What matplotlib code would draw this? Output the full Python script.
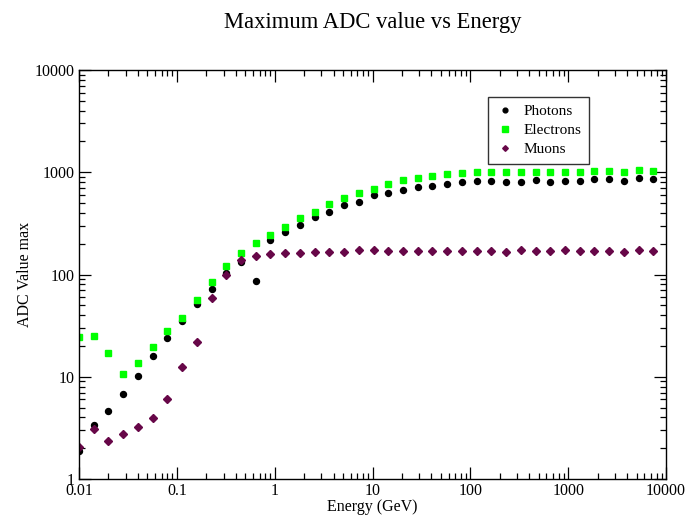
import matplotlib
matplotlib.use("Agg")
import matplotlib.pyplot as plt
from matplotlib.ticker import LogLocator, FuncFormatter, NullFormatter

# ---- data ----
energy = [0.01, 0.01414, 0.02, 0.02828, 0.04, 0.05657, 0.08, 0.1131,
          0.16, 0.2263, 0.32, 0.4525, 0.64, 0.9051, 1.28, 1.81,
          2.56, 3.62, 5.12, 7.241, 10.24, 14.48, 20.48, 28.96,
          40.96, 57.93, 81.92, 115.9, 163.8, 231.7, 327.7, 463.4,
          655.4, 926.8, 1311, 1854, 2621, 3707, 5243, 7415]

photons = [1.9, 3.35, 4.6, 6.8, 10.2, 16.1, 23.8, 35.1,
           51.5, 72.6, 103, 133, 86.4, 217, 259, 307,
           365, 408, 475, 515, 599, 627, 671, 713,
           734, 763, 798, 815, 815, 810, 810, 834,
           810, 815, 828, 853, 853, 828, 873, 853]

electrons = [24.7, 25.0, 17.0, 10.6, 13.7, 19.7, 27.8, 37.5,
             56.3, 84.5, 120, 162, 202, 245, 292, 355,
             411, 489, 560, 622, 691, 773, 840, 879,
             919, 962, 977, 1000, 1012, 1012, 1012, 1012,
             1012, 1012, 1012, 1035, 1035, 1012, 1043, 1035]

muons = [2.07, 3.1, 2.37, 2.75, 3.2, 3.95, 6.1, 12.5,
         21.7, 58.5, 98, 138, 152, 158, 161, 161,
         165, 165, 165, 174, 174, 170, 170, 170,
         170, 170, 170, 170, 170, 165, 174, 170,
         170, 174, 170, 170, 170, 167, 174, 170]

labels = ["Photons", "Electrons", "Muons"]
# -------------------------------------

plt.rcParams["font.family"] = ["Liberation Serif", "DejaVu Serif"]

fig = plt.figure(figsize=(6.85, 5.2), dpi=100)
ax = fig.add_axes([0.1153, 0.0788, 0.857, 0.7866])

ax.plot(energy, photons, ls="none", marker="o", ms=4.3, color="black",
        mec="black", label=labels[0])
ax.plot(energy, electrons, ls="none", marker="s", ms=5.0, color="#00ff00",
        mec="#00ff00", label=labels[1])
ax.plot(energy, muons, ls="none", marker="D", ms=3.6, color="#670748",
        mec="#670748", label=labels[2])

ax.set_xscale("log")
ax.set_yscale("log")
ax.set_xlim(0.01, 10000)
ax.set_ylim(1, 10000)

fmt = FuncFormatter(lambda v, p: "%g" % v)
for axis in (ax.xaxis, ax.yaxis):
    axis.set_major_locator(LogLocator(base=10, numticks=20))
    axis.set_minor_locator(LogLocator(base=10, subs=range(2, 10), numticks=20))
    axis.set_major_formatter(fmt)
    axis.set_minor_formatter(NullFormatter())

ax.tick_params(which="both", direction="in", top=True, right=True,
               labelsize=11.5, width=0.9)
ax.tick_params(which="major", length=8.5, pad=3)
ax.tick_params(which="minor", length=4.5)
for sp in ax.spines.values():
    sp.set_linewidth(1.0)

ax.set_xlabel("Energy (GeV)", fontsize=11.5, labelpad=0)
ax.set_ylabel("ADC Value max", fontsize=11.5, labelpad=1)
# title centred over the plot area, as in the reference
ax.set_title("Maximum ADC value vs Energy", fontsize=16.3, pad=30)

leg = ax.legend(loc="upper left", bbox_to_anchor=(0.697, 0.934),
                borderaxespad=0, fontsize=11, frameon=True, fancybox=False,
                markerscale=0.8, handlelength=1.2, handletextpad=0.6,
                borderpad=0.5, labelspacing=0.35)
leg.get_frame().set_edgecolor("black")
leg.get_frame().set_linewidth(1.0)

fig.savefig("out.png", dpi=100)
